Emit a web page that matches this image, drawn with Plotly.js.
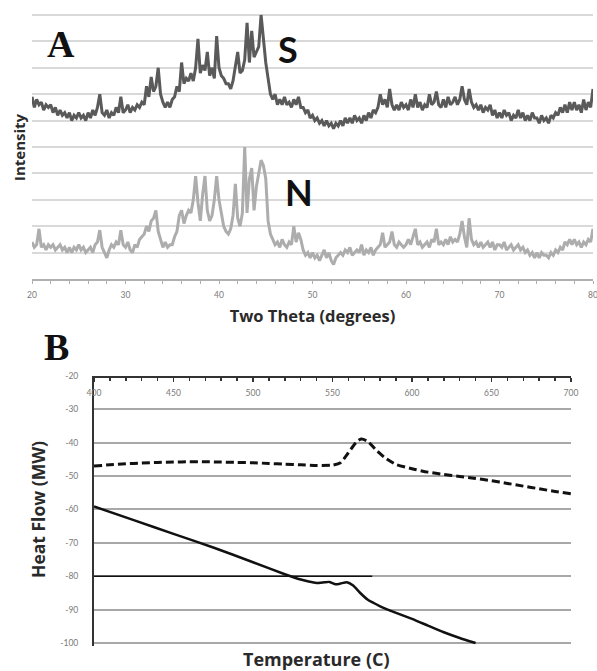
<!DOCTYPE html>
<html>
<head>
<meta charset="utf-8">
<script src="https://cdn.plot.ly/plotly-3.0.1.min.js"></script>
<style>html,body{margin:0;padding:0;background:#fff;}#chart{width:597px;height:671px;}</style>
</head>
<body>
<div id="chart"></div>
<script>
// ---------- Panel A: XRD patterns (two theta from 20 to 80, step 0.25) ----------
const thetaStart = 20;
const thetaStep = 0.25;
const thetaTicks = [20, 30, 40, 50, 60, 70, 80];

const intensityS = [
  6.9,6.5,6.8,6.6, 6.7,6.4,6.6,6.5, 6.6,6.3,6.5,6.2, 6.4,6.2,6.3,6.1, 6.3,6.0,6.2,6.1,
  6.3,6.1,6.2,6.0, 6.3,6.1,6.4,6.2, 6.5,7.0,6.3,6.2, 6.4,6.1,6.3,6.2, 6.5,6.3,6.9,6.3,
  6.4,6.6,6.3,6.5, 6.4,6.6,6.5,6.7, 6.6,7.3,6.9,7.65, 7.1,7.3,8.0,7.0, 6.7,6.5,6.7,6.5,
  6.8,6.9,7.3,7.1, 8.2,7.4,7.6,7.5, 7.8,7.5,8.0,9.1, 7.8,8.1,7.9,8.6, 7.7,8.0,7.6,9.2,
  8.0,7.7,7.6,7.4, 7.4,7.2,7.5,8.0, 8.6,7.8,7.9,8.3, 9.7,8.2,9.4,8.4, 8.6,8.8,10.0,9.0,
  8.2,7.6,7.0,6.8, 7.0,6.6,6.8,6.6, 6.9,6.6,6.7,6.5, 6.8,6.6,6.9,6.5, 6.5,6.3,6.4,6.1,
  6.2,6.0,6.1,5.9, 6.0,5.8,6.0,5.8, 5.9,5.7,5.9,5.8, 6.0,5.8,6.1,5.9, 6.1,5.9,6.2,6.0,
  6.1,5.9,6.2,6.0, 6.3,6.1,6.4,6.3, 6.5,7.0,6.6,6.8, 6.5,7.2,6.6,6.4, 6.6,6.4,6.7,6.5,
  6.6,6.4,6.8,6.5, 7.0,6.5,6.7,6.4, 6.6,6.5,7.0,6.6, 6.7,7.1,6.6,6.5, 6.8,6.5,6.9,6.6,
  6.7,6.9,6.6,6.8, 7.3,6.8,6.6,7.2, 6.7,6.5,6.6,6.4, 6.6,6.3,6.5,6.4, 6.6,6.2,6.4,6.1,
  6.3,6.1,6.4,6.2, 6.3,6.0,6.2,6.1, 6.4,6.1,6.3,6.0, 6.2,6.0,6.3,6.1, 6.1,5.9,6.2,6.0,
  6.1,5.9,6.2,6.1, 6.3,6.2,6.5,6.3, 6.6,6.3,6.7,6.4, 6.7,6.4,6.6,6.3, 6.8,6.4,6.7,6.5,
  7.2
];

const intensityN = [
  1.4,1.2,1.3,1.9, 1.2,1.3,1.1,1.3, 1.2,1.3,1.1,1.2, 1.3,1.1,1.2,1.0, 1.2,1.0,1.2,1.1,
  1.3,1.1,1.2,1.0, 1.1,1.2,1.0,1.3, 1.4,1.85,1.2,1.0, 0.8,1.1,1.3,1.2, 1.4,1.3,1.85,1.3,
  1.2,1.4,1.1,1.0, 1.3,1.2,1.5,1.6, 1.7,2.0,1.8,2.2, 2.3,2.6,1.8,1.5, 1.2,1.4,1.2,1.3,
  1.3,1.6,1.8,2.4, 2.6,2.1,2.4,2.6, 2.5,3.0,3.9,2.9, 2.2,3.2,3.9,2.6, 2.2,2.4,3.0,3.9,
  3.0,2.5,2.0,1.8, 1.7,1.9,2.4,3.6, 2.3,2.0,2.5,5.0, 2.5,3.8,4.2,2.6, 3.5,4.0,4.5,4.3,
  3.8,2.2,1.7,1.5, 1.3,1.4,1.2,1.5, 1.3,1.2,1.4,1.3, 2.0,1.4,1.75,1.5, 1.1,0.9,1.0,0.8,
  1.0,0.8,0.9,0.7, 0.9,1.1,0.8,1.0, 0.7,0.55,0.8,0.9, 1.0,0.9,1.1,1.0, 1.2,0.9,1.0,1.1,
  1.0,1.3,0.9,1.1, 1.0,1.2,0.9,1.1, 1.2,1.3,1.75,1.2, 1.3,1.4,1.8,1.3, 1.2,1.4,1.3,1.2,
  1.3,1.5,1.3,1.6, 1.9,1.3,1.4,1.2, 1.3,1.4,1.2,1.5, 1.4,1.9,1.3,1.4, 1.3,1.5,1.3,1.6,
  1.4,1.5,1.4,1.7, 2.2,1.6,1.2,2.3, 1.5,1.3,1.4,1.2, 1.4,1.2,1.3,1.4, 1.2,1.4,1.1,1.3,
  1.3,1.2,1.4,1.1, 1.2,1.3,1.1,1.2, 1.3,1.1,1.2,1.0, 1.1,0.9,1.0,0.8, 1.0,0.8,1.0,0.9,
  0.9,0.8,1.0,0.9, 1.1,1.0,1.2,1.1, 1.4,1.3,1.5,1.3, 1.5,1.3,1.4,1.2, 1.4,1.3,1.5,1.4,
  1.9
];

// ---------- Panel B: DSC curves ----------
const tempDashed = [400,410,420,430,440,450,460,470,480,490,500,510,520,530,540,550,555,560,565,568,572,577,583,590,600,610,620,630,640,650,660,670,680,690,700];
const heatDashed = [-47.0,-46.6,-46.3,-46.1,-45.9,-45.8,-45.7,-45.7,-45.8,-45.9,-46.0,-46.2,-46.4,-46.6,-46.8,-46.7,-46.0,-43.0,-39.8,-38.9,-39.5,-42.0,-44.5,-46.5,-47.8,-48.8,-49.5,-50.1,-50.7,-51.4,-52.2,-53.0,-53.8,-54.6,-55.3];

const tempSolid = [400,425,450,475,500,520,530,535,540,545,548,552,555,559,563,567,572,580,590,600,610,620,630,640];
const heatSolid = [-59.1,-63.2,-67.3,-71.4,-75.8,-79.4,-81.0,-81.6,-82.0,-81.8,-81.7,-82.4,-82.2,-81.8,-82.8,-84.8,-87.0,-89.0,-91.0,-92.8,-94.8,-96.8,-98.5,-100.0];

const tempBaseline = [400, 575];
const heatBaseline = [-80, -80];

const heatTickVals = [-100,-90,-80,-70,-60,-50,-40,-30,-20];
const heatTickText = ['-100','-90','-80','-70','-60','-50','-40','-30','-20'];
const tempTicks = [400,450,500,550,600,650,700];

// ---------- drawing ----------
const W = 597, H = 671;
const px = v => v / W;
const py = v => 1 - v / H;

const traces = [
  {type:'scatter', mode:'lines', x0:thetaStart, dx:thetaStep, y:intensityS, xaxis:'x', yaxis:'y',
   line:{color:'#5a5a5a', width:3}, hoverinfo:'skip'},
  {type:'scatter', mode:'lines', x0:thetaStart, dx:thetaStep, y:intensityN, xaxis:'x', yaxis:'y',
   line:{color:'#adadad', width:3}, hoverinfo:'skip'},
  {type:'scatter', mode:'lines', x:tempBaseline, y:heatBaseline, xaxis:'x2', yaxis:'y2',
   line:{color:'#111111', width:1.5}, hoverinfo:'skip'},
  {type:'scatter', mode:'lines', x:tempDashed, y:heatDashed, xaxis:'x2', yaxis:'y2',
   line:{color:'#111111', width:3, dash:'8px,4px', shape:'spline', smoothing:0.6}, hoverinfo:'skip'},
  {type:'scatter', mode:'lines', x:tempSolid, y:heatSolid, xaxis:'x2', yaxis:'y2',
   line:{color:'#111111', width:2.5, shape:'spline', smoothing:0.5}, hoverinfo:'skip'}
];

const tickFont = {family:'Lato, "Open Sans", sans-serif', size:8.5, color:'#7a7a7a'};
const sansBold = '"Open Sans", Lato, sans-serif';

const layout = {
  width: W, height: H,
  margin:{l:0, r:0, t:0, b:0},
  paper_bgcolor:'#ffffff', plot_bgcolor:'rgba(0,0,0,0)',
  showlegend:false,
  xaxis:{
    domain:[px(32), px(593)], range:[20, 80], anchor:'y',
    tickvals:thetaTicks, showgrid:false, zeroline:false,
    showline:true, linecolor:'#b0b0b0', linewidth:1.5,
    ticks:'outside', ticklen:3, tickcolor:'#b0b0b0', tickwidth:1,
    minor:{dtick:2, tick0:20, ticks:'outside', ticklen:3, tickcolor:'#b0b0b0', showgrid:false},
    tickfont:tickFont, ticklabelstandoff:4, ticklabeloverflow:'allow',
    title:{text:'<b>Two Theta (degrees)</b>', font:{family:sansBold, size:16.5, color:'#2a2a2a'}, standoff:11},
    automargin:false, fixedrange:true
  },
  yaxis:{
    domain:[py(279), py(1.8)], range:[0, 10.5], anchor:'x',
    dtick:1, tick0:0, showgrid:true, gridcolor:'#d9d9d9', gridwidth:2,
    showticklabels:false, ticks:'', zeroline:false, showline:false,
    automargin:false, fixedrange:true
  },
  xaxis2:{
    domain:[px(94), px(571)], range:[400, 700], anchor:'free', position:py(376), side:'bottom',
    tickvals:tempTicks, showgrid:false, zeroline:false,
    showline:true, linecolor:'#333333', linewidth:1.5,
    ticks:'outside', ticklen:4, tickcolor:'#333333', tickwidth:1.5,
    minor:{dtick:10, tick0:400, ticks:'outside', ticklen:3, tickcolor:'#333333', showgrid:false},
    tickfont:tickFont, ticklabelstandoff:4, ticklabeloverflow:'allow',
    automargin:false, fixedrange:true
  },
  yaxis2:{
    domain:[py(646.3), py(376)], range:[-101, -20], anchor:'x2',
    tickvals:heatTickVals, ticktext:heatTickText,
    showgrid:true, gridcolor:'#a8a8a8', gridwidth:2,
    zeroline:false, showline:true, linecolor:'#333333', linewidth:2,
    ticks:'', tickfont:tickFont, ticklabelstandoff:12, ticklabeloverflow:'allow',
    automargin:false, fixedrange:true
  },
  annotations:[
    {text:'<b>A</b>', xref:'paper', yref:'paper', x:px(61), y:py(44), showarrow:false,
     xanchor:'center', yanchor:'middle', font:{family:'"Liberation Serif", "DejaVu Serif", serif', size:38, color:'#111'}},
    {text:'<b>B</b>', xref:'paper', yref:'paper', x:px(56), y:py(347), showarrow:false,
     xanchor:'center', yanchor:'middle', font:{family:'"Liberation Serif", "DejaVu Serif", serif', size:38, color:'#111'}},
    {text:'<b>S</b>', xref:'paper', yref:'paper', x:px(288), y:py(49), showarrow:false,
     xanchor:'center', yanchor:'middle', font:{family:'Lato, sans-serif', size:36, color:'#111'}},
    {text:'<b>N</b>', xref:'paper', yref:'paper', x:px(299), y:py(192), showarrow:false,
     xanchor:'center', yanchor:'middle', font:{family:'Lato, sans-serif', size:36, color:'#111'}},
    {text:'<b>Intensity</b>', xref:'paper', yref:'paper', x:px(19), y:py(147), showarrow:false, textangle:-90,
     xanchor:'center', yanchor:'middle', font:{family:sansBold, size:15, color:'#2a2a2a'}},
    {text:'<b>Heat Flow (MW)</b>', xref:'paper', yref:'paper', x:px(38), y:py(510), showarrow:false, textangle:-90,
     xanchor:'center', yanchor:'middle', font:{family:sansBold, size:17.5, color:'#2a2a2a'}},
    {text:'<b>Temperature (C)</b>', xref:'paper', yref:'paper', x:px(316), y:py(659), showarrow:false,
     xanchor:'center', yanchor:'middle', font:{family:sansBold, size:18, color:'#2a2a2a'}}
  ]
};

Plotly.newPlot('chart', traces, layout, {staticPlot:true, displayModeBar:false});
</script>
</body>
</html>
